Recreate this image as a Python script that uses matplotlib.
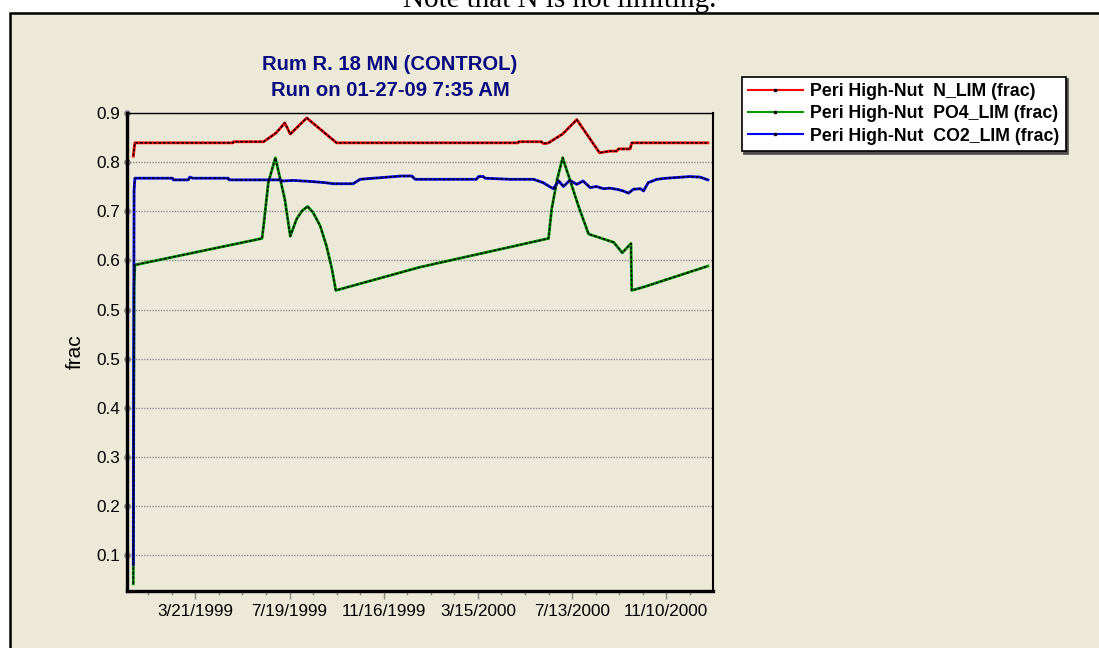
import numpy as np
import matplotlib
matplotlib.use("Agg")
import matplotlib.pyplot as plt
import matplotlib.dates as mdates
from matplotlib.lines import Line2D
from matplotlib.patches import Rectangle

plt.rcParams['font.family'] = ['Liberation Sans', 'DejaVu Sans']

# --- data (days since 1/1/1999) ---
start_date = '1999-01-01'

n_days = [0, 2, 127, 128, 166, 182, 193, 200, 221, 259, 490, 491, 520, 522, 526, 529,
          547, 565, 594, 607, 616, 618, 633, 635, 732]
n_vals = [0.822, 0.846, 0.846, 0.848, 0.848, 0.864, 0.882, 0.862, 0.891, 0.846, 0.846, 0.848,
          0.848, 0.845, 0.845, 0.846, 0.862, 0.888, 0.828, 0.831, 0.831, 0.835, 0.835, 0.846, 0.846]

p_days = [0, 1, 2, 164, 166, 172, 181, 193, 200, 208, 215, 222, 229, 238, 246, 253, 258,
          365, 529, 533, 540, 547, 556, 567, 580, 599, 612, 623, 634, 635, 650, 732]
p_vals = [0.048, 0.585, 0.625, 0.673, 0.696, 0.774, 0.819, 0.744, 0.677, 0.708, 0.723, 0.731,
          0.720, 0.696, 0.660, 0.618, 0.579, 0.621, 0.673, 0.726, 0.780, 0.819, 0.780, 0.732,
          0.681, 0.672, 0.666, 0.647, 0.664, 0.579, 0.585, 0.623]

c_days = [0, 1, 2, 50, 51, 70, 72, 76, 121, 122, 187, 190, 204, 227, 244, 255, 280, 289, 306,
          342, 355, 359, 437, 440, 446, 448, 480, 510, 522, 529, 535, 542, 548, 556, 565, 573,
          582, 590, 599, 607, 616, 624, 631, 637, 646, 650, 656, 667, 679, 709, 722, 732]
c_vals = [0.083, 0.759, 0.782, 0.782, 0.779, 0.779, 0.784, 0.782, 0.782, 0.779, 0.779, 0.777,
          0.778, 0.776, 0.774, 0.772, 0.772, 0.780, 0.782, 0.786, 0.786, 0.780, 0.780, 0.785,
          0.785, 0.782, 0.780, 0.780, 0.774, 0.768, 0.763, 0.777, 0.767, 0.778, 0.771, 0.777,
          0.765, 0.767, 0.763, 0.764, 0.762, 0.759, 0.755, 0.762, 0.763, 0.759, 0.774, 0.780,
          0.782, 0.785, 0.784, 0.779]

labels = ['Peri High-Nut  N_LIM (frac)', 'Peri High-Nut  PO4_LIM (frac)',
          'Peri High-Nut  CO2_LIM (frac)']
colors = ['#ff0000', '#009a00', '#0000ff']

xtick_dates = ['1999-03-21', '1999-07-19', '1999-11-16', '2000-03-15', '2000-07-13', '2000-11-10']
xtick_labels = ['3/21/1999', '7/19/1999', '11/16/1999', '3/15/2000', '7/13/2000', '11/10/2000']
ytick_vals = [0.9, 0.8111, 0.7222, 0.6333, 0.5444, 0.4556, 0.3667, 0.2778, 0.1889, 0.1]
ytick_labels = ['0.9', '0.8', '0.7', '0.6', '0.5', '0.5', '0.4', '0.3', '0.2', '0.1']

bg = '#ece9d8'
W, H = 1099, 648

fig = plt.figure(figsize=(W / 100, H / 100), dpi=100, facecolor='white')

# outer frame (behind the axes)
frame = Rectangle((10 / W, -0.1), 1.2, 1.1 - 13 / H, transform=fig.transFigure,
                  facecolor=bg, edgecolor='black', linewidth=1.8, zorder=-10)
fig.patches.append(frame)

fig.text(560 / W, 1 - 7 / H, 'Note that N is not limiting.', ha='center', va='baseline',
         fontsize=21, family=['Liberation Serif', 'DejaVu Serif'])

ax = fig.add_axes([126.7 / W, 1 - 591 / H, (713.3 - 126.7) / W, (591 - 113) / H])
ax.set_facecolor(bg)
ax.set_zorder(1)

x0 = mdates.datestr2num(start_date)
series = [(n_days, n_vals), (p_days, p_vals), (c_days, c_vals)]
for (d, v), c in zip(series, colors):
    xs = x0 + np.array(d)
    ax.plot(xs, v, color=c, lw=2.0, zorder=3)
    ax.plot(xs, v, color='black', lw=1.1, ls=(0, (2, 1)), zorder=4)

ax.set_xlim(x0 - 8.4, x0 + 738.9)
ax.set_ylim(0.035, 0.9)

ax.set_yticks(ytick_vals)
ax.set_yticklabels(ytick_labels, fontsize=12.3)
ax.tick_params(axis='y', length=0, pad=5)
for t in ax.yaxis.get_major_ticks():
    t.tick1line.set_marker('o')
    t.tick1line.set_markersize(4)
    t.tick1line.set_markerfacecolor('#888888')
    t.tick1line.set_markeredgecolor('#888888')
ax.yaxis.grid(True, color='#8c8c8c', lw=1.0, ls=(0, (1, 1)))
ax.set_axisbelow(True)

ax.set_xticks(mdates.datestr2num(xtick_dates))
ax.set_xticklabels(xtick_labels, fontsize=12.3)
ax.set_xticks(mdates.datestr2num('1999-01-20') + np.arange(0, 700, 30), minor=True)
ax.tick_params(axis='x', which='major', length=5.5, width=1, color='#888888', pad=4)
ax.tick_params(axis='x', which='minor', length=3, width=1, color='#888888')

ax.set_ylabel('frac', fontsize=15, labelpad=8)

for side in ['left', 'bottom']:
    ax.spines[side].set_linewidth(2.4)
ax.spines['right'].set_linewidth(1.5)
ax.spines['top'].set_linewidth(1.0)

fig.text(390 / W, 1 - 70 / H, 'Rum R. 18 MN (CONTROL)', ha='center', va='baseline',
         fontsize=14.6, fontweight='bold', color='#0a0a80')
fig.text(390 / W, 1 - 95.7 / H, 'Run on 01-27-09 7:35 AM', ha='center', va='baseline',
         fontsize=14.6, fontweight='bold', color='#0a0a80')

handles = [Line2D([], [], color=c, lw=1.5, marker='s', markersize=2,
                  markerfacecolor='black', markeredgecolor='black') for c in colors]
leg = fig.legend(handles, labels, loc='upper left', bbox_to_anchor=(741.7 / W, 1 - 76.7 / H),
                 bbox_transform=fig.transFigure, borderaxespad=0, fancybox=False,
                 edgecolor='black', facecolor='white', framealpha=1,
                 shadow={'color': '0.3', 'alpha': 1}, numpoints=1,
                 prop={'size': 12.8, 'weight': 'bold'}, handlelength=3.1, handletextpad=0.4,
                 borderpad=0.35, labelspacing=0.3)
leg.get_frame().set_linewidth(1.2)
leg.set_zorder(5)

fig.savefig('out.png', dpi=100, facecolor=fig.get_facecolor())
